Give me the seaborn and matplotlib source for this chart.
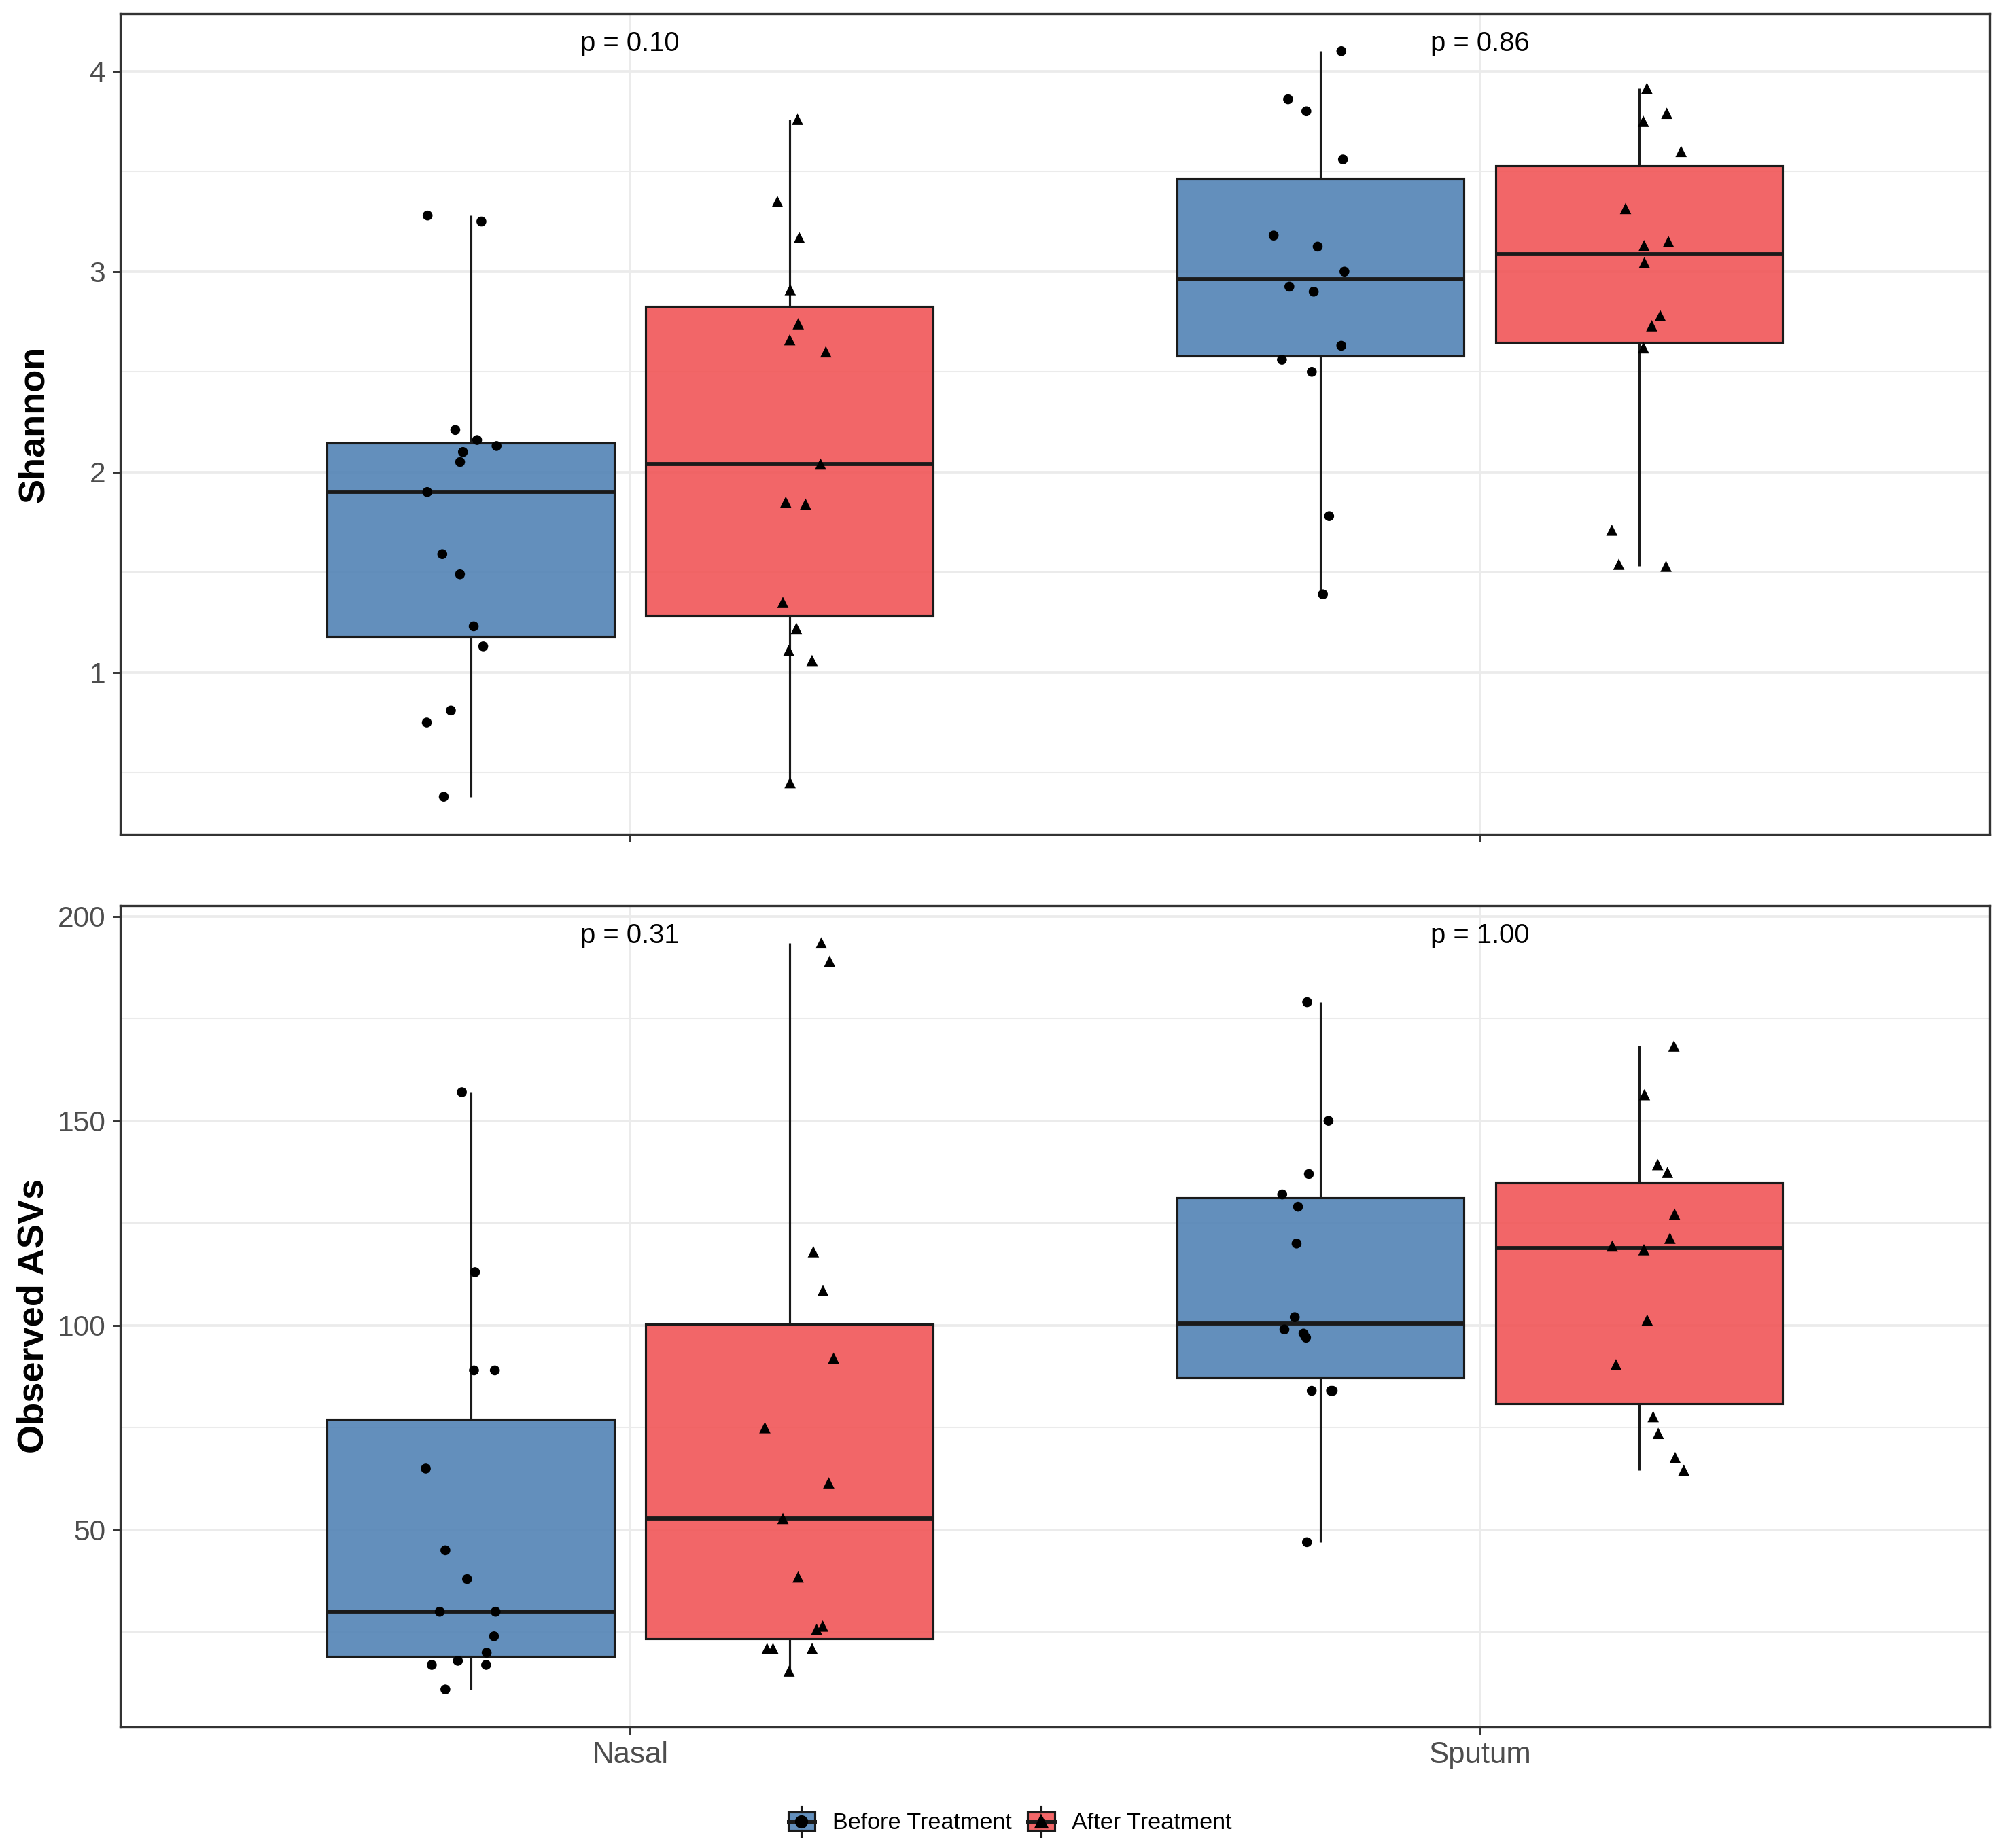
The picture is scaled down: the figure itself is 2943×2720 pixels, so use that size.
import numpy as np
import pandas as pd
import matplotlib.pyplot as plt
import seaborn as sns
from matplotlib.ticker import MultipleLocator, FormatStrFormatter
from matplotlib.legend_handler import HandlerBase
from matplotlib.patches import Rectangle, Patch
from matplotlib.lines import Line2D

# Data
sites = ['Nasal', 'Sputum']
groups = ['Before Treatment', 'After Treatment']
markers = ['o', '^']

shannon_nasal_before = [3.28, 3.25, 2.21, 2.16, 2.13, 2.10, 2.05, 1.90, 1.59, 1.49, 1.23, 1.13, 0.81, 0.75, 0.38]
shannon_nasal_after = [3.76, 3.35, 3.17, 2.91, 2.74, 2.66, 2.60, 2.04, 1.85, 1.84, 1.35, 1.22, 1.11, 1.06, 0.45]
shannon_sputum_before = [4.10, 3.86, 3.80, 3.56, 3.18, 3.125, 3.00, 2.925, 2.90, 2.63, 2.56, 2.50, 1.78, 1.39]
shannon_sputum_after = [3.915, 3.79, 3.75, 3.60, 3.315, 3.15, 3.13, 3.045, 2.78, 2.73, 2.62, 1.71, 1.54, 1.53]

asv_nasal_before = [157, 113, 89, 89, 65, 45, 38, 30, 30, 24, 20, 18, 17, 17, 11]
asv_nasal_after = [193.5, 189, 118, 108.5, 92, 75, 61.5, 52.8, 38.5, 26.5, 25.7, 21, 21, 21, 15.5]
asv_sputum_before = [179, 150, 137, 132, 129, 120, 102, 99, 98, 97, 84, 84, 84, 47]
asv_sputum_after = [168.3, 156.4, 139.3, 137.4, 127.2, 121.3, 119.4, 118.5, 101.3, 90.4, 77.7, 73.6, 67.7, 64.6]

shannon_p = ['0.10', '0.86']
asv_p = ['0.31', '1.00']

# fill colours (drawn with alpha 0.9 over white) and the solid look for the legend
box_colors = ['#5283B5', '#F15557']
key_colors = ['#638FBC', '#F26668']


def long_df(nb, na, sb, sa):
    rows = []
    for site, grp, vals in [('Nasal', groups[0], nb), ('Nasal', groups[1], na),
                            ('Sputum', groups[0], sb), ('Sputum', groups[1], sa)]:
        for v in vals:
            rows.append((site, grp, v))
    return pd.DataFrame(rows, columns=['site', 'group', 'value'])


shannon_df = long_df(shannon_nasal_before, shannon_nasal_after, shannon_sputum_before, shannon_sputum_after)
asv_df = long_df(asv_nasal_before, asv_nasal_after, asv_sputum_before, asv_sputum_after)

plt.rcParams['font.family'] = ['Liberation Sans', 'DejaVu Sans']
np.random.seed(7)

fig = plt.figure(figsize=(2943 / 300, 2720 / 300), dpi=300)
ax1 = fig.add_axes([0.060, 0.5487, 0.935, 0.4438])
ax2 = fig.add_axes([0.060, 0.0656, 0.935, 0.4444])


def draw_panel(ax, d, pvals, ylabel, major_step, minor_step, show_xlabels):
    ax.set_axisbelow(True)
    sns.boxplot(data=d, x='site', y='value', hue='group', order=sites, hue_order=groups,
                palette=box_colors, saturation=1, width=0.75, gap=0.1, showfliers=False,
                showcaps=False, linewidth=0.75, linecolor='#1a1a1a',
                medianprops=dict(linewidth=1.4, color='#1a1a1a'), legend=False, ax=ax)
    # a little transparency so the grid shows faintly through the boxes
    for p in ax.patches:
        fc = p.get_facecolor()
        p.set_facecolor((fc[0], fc[1], fc[2], 0.9))
    for g, m in zip(groups, markers):
        sub = d[d['group'] == g]
        sns.stripplot(data=sub, x='site', y='value', hue='group', order=sites, hue_order=groups,
                      dodge=True, jitter=0.09, palette=['black', 'black'], marker=m,
                      size=3.5 if m == 'o' else 4.0, linewidth=0, legend=False, ax=ax, zorder=4)

    lo, hi = d['value'].min(), d['value'].max()
    pad = (hi - lo) * 0.05
    ax.set_ylim(lo - pad, hi + pad)
    ax.set_xlim(-0.6, 1.6)
    for i, p in enumerate(pvals):
        ax.text(i, hi, f'p = {p}', ha='center', va='baseline', fontsize=9.6, color='black')

    ax.yaxis.set_major_locator(MultipleLocator(major_step))
    ax.yaxis.set_major_formatter(FormatStrFormatter('%d'))
    ax.yaxis.set_minor_locator(MultipleLocator(minor_step))
    ax.grid(which='major', color='#EBEBEB', linewidth=0.9)
    ax.grid(which='minor', axis='y', color='#EBEBEB', linewidth=0.5)
    ax.tick_params(which='minor', length=0)
    ax.tick_params(which='major', length=2.6, width=0.7, color='#333333',
                   labelcolor='#4D4D4D', labelsize=10.2, pad=2.5)
    for s in ax.spines.values():
        s.set_color('#333333')
        s.set_linewidth(0.8)
    ax.set_xlabel('')
    ax.set_ylabel(ylabel, fontsize=13, fontweight='bold', color='black')
    ax.yaxis.set_label_coords(-0.037, 0.5)
    if not show_xlabels:
        ax.set_xticklabels([])


draw_panel(ax1, shannon_df, shannon_p, 'Shannon', 1, 0.5, False)
draw_panel(ax2, asv_df, asv_p, 'Observed ASVs', 50, 25, True)
ax2.tick_params(axis='x', labelsize=10.5)


class BoxKey(HandlerBase):
    def __init__(self, color, marker):
        super().__init__()
        self.color = color
        self.marker = marker

    def create_artists(self, legend, orig_handle, xdescent, ydescent, width, height, fontsize, trans):
        x0, y0 = -xdescent, -ydescent
        cx, cy = x0 + width / 2, y0 + height / 2
        bh = height * 0.6
        rect = Rectangle((x0, cy - bh / 2), width, bh, facecolor=self.color,
                         edgecolor='#1a1a1a', linewidth=0.75, transform=trans)
        w1 = Line2D([cx, cx], [y0, cy - bh / 2], color='#1a1a1a', linewidth=0.75, transform=trans)
        w2 = Line2D([cx, cx], [cy + bh / 2, y0 + height], color='#1a1a1a', linewidth=0.75, transform=trans)
        med = Line2D([x0, x0 + width], [cy, cy], color='#1a1a1a', linewidth=1.2, transform=trans)
        pt = Line2D([cx], [cy], marker=self.marker, color='black', markersize=3.6,
                    linestyle='none', transform=trans)
        return [rect, w1, w2, med, pt]


handles = [Patch(facecolor=c) for c in key_colors]
fig.legend(handles, groups, loc='center', bbox_to_anchor=(0.505, 0.0145), ncol=2, frameon=False,
           fontsize=8.2, handlelength=1.15, handleheight=1.6, handletextpad=0.75, columnspacing=0.7,
           handler_map={h: BoxKey(c, m) for h, c, m in zip(handles, key_colors, markers)})

fig.savefig('out.png', dpi=300)
